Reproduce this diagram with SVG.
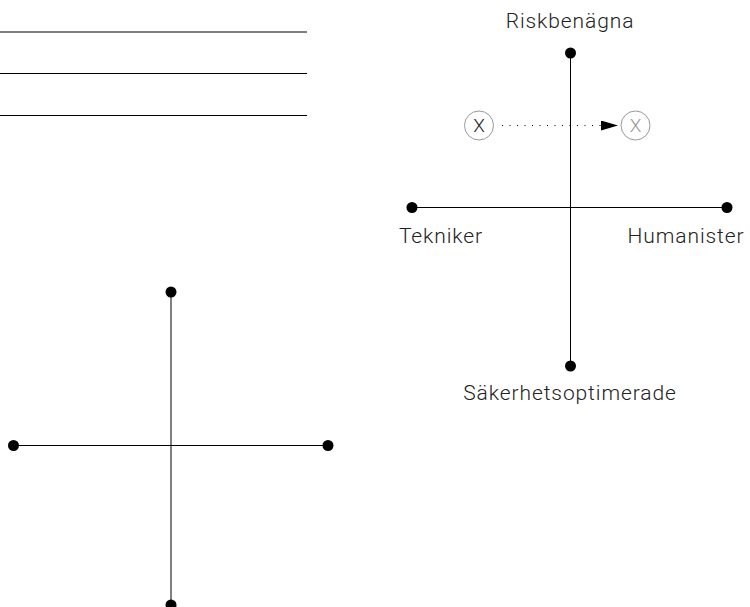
<svg xmlns="http://www.w3.org/2000/svg" width="750" height="607" viewBox="0 0 750 607">
<defs>
<style>
.ln{stroke:#000;stroke-width:1;fill:none}
.dot{fill:#000}
.lbl{font-family:Roboto,"Liberation Sans",sans-serif;font-weight:300;font-size:21px;letter-spacing:0.9px;fill:#222;text-anchor:middle}
.xt{font-family:Roboto,"Liberation Sans",sans-serif;font-weight:300;font-size:19px;text-anchor:middle}
.xc{fill:#fff;stroke:#999;stroke-width:1}
</style>
<marker id="arr" viewBox="0 0 17 10" refX="17" refY="5" markerWidth="17" markerHeight="10" markerUnits="userSpaceOnUse" orient="auto"><path d="M0,0L17,5L0,10z" fill="#000"/></marker>
</defs>
<g id="lines-top-left">
<line class="ln" x1="0" y1="32" x2="307" y2="32"/>
<line class="ln" x1="0" y1="73.5" x2="307" y2="73.5"/>
<line class="ln" x1="0" y1="115.5" x2="307" y2="115.5"/>
</g>
<g id="connectors">
<line class="ln" x1="570.5" y1="53" x2="570.5" y2="366"/>
<line class="ln" x1="412" y1="207.5" x2="727" y2="207.5"/>
<line class="ln" x1="171" y1="292" x2="171" y2="605"/>
<line class="ln" x1="13" y1="445.5" x2="328" y2="445.5"/>
<line x1="502" y1="125.5" x2="618" y2="125.5" stroke="#000" stroke-width="1" stroke-dasharray="1 6.5" marker-end="url(#arr)"/>
</g>
<g id="riskbenagna"><circle class="dot" cx="570.5" cy="53" r="5.5"/><text class="lbl" x="570" y="28">Riskbenägna</text></g>
<g id="tekniker"><circle class="dot" cx="412" cy="207.5" r="5.5"/><text class="lbl" x="441" y="243">Tekniker</text></g>
<g id="humanister"><circle class="dot" cx="727" cy="207.5" r="5.5"/><text class="lbl" x="686" y="243">Humanister</text></g>
<g id="sakerhetsoptimerade"><circle class="dot" cx="570.5" cy="366" r="5.5"/><text class="lbl" x="570" y="400">Säkerhetsoptimerade</text></g>
<g id="x-left"><circle class="xc" cx="479" cy="125.5" r="14.5"/><text class="xt" x="479" y="132" fill="#222">X</text></g>
<g id="x-right"><circle class="xc" cx="635.5" cy="125.5" r="14.5"/><text class="xt" x="635.5" y="132" fill="#999">X</text></g>
<g id="cross-left">
<circle class="dot" cx="171" cy="292" r="5.5"/>
<circle class="dot" cx="13.5" cy="445.5" r="5.5"/>
<circle class="dot" cx="328" cy="445.5" r="5.5"/>
<circle class="dot" cx="171" cy="605" r="5.5"/>
</g>
</svg>
